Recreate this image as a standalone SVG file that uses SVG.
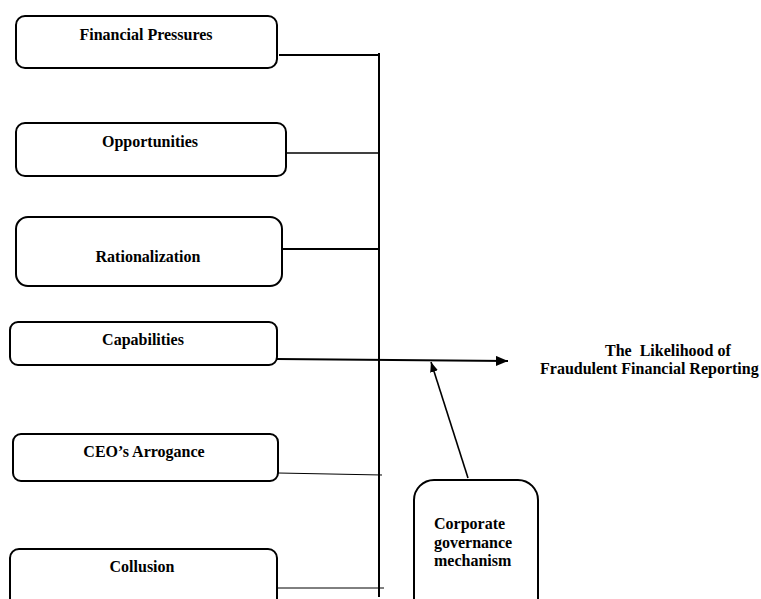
<svg xmlns="http://www.w3.org/2000/svg" width="761" height="599" viewBox="0 0 761 599">
<defs>
<style>
.box{fill:#fff;stroke:#000;stroke-width:2}
.lbl{font-family:"Liberation Serif","Times New Roman",serif;font-weight:bold;font-size:16px;fill:#000}
.c{text-anchor:middle}
.ln{stroke:#000;fill:none}
</style>
<marker id="ah" markerWidth="10" markerHeight="8" refX="10" refY="4" orient="auto" markerUnits="userSpaceOnUse">
<path d="M0,0 L10,4 L0,8 Z" fill="#000"/>
</marker>
<marker id="ah2" markerWidth="12" markerHeight="10" refX="12" refY="5" orient="auto" markerUnits="userSpaceOnUse">
<path d="M0,0 L12,5 L0,10 Z" fill="#000"/>
</marker>
</defs>
<rect width="761" height="599" fill="#fff"/>
<g id="connectors">
<line class="ln" x1="379" y1="53" x2="379" y2="597" stroke-width="2"/>
<line class="ln" x1="279" y1="55" x2="379" y2="55" stroke-width="2"/>
<line class="ln" x1="283" y1="153" x2="379" y2="153" stroke-width="1.3"/>
<line class="ln" x1="282" y1="249" x2="379" y2="249" stroke-width="2"/>
<line class="ln" x1="277" y1="359" x2="508" y2="361" stroke-width="2" marker-end="url(#ah2)"/>
<line class="ln" x1="278" y1="473" x2="382" y2="475" stroke="#555" stroke-width="1"/>
<line class="ln" x1="277" y1="588" x2="384" y2="588" stroke-width="1"/>
<line class="ln" x1="468" y1="478" x2="431" y2="362" stroke-width="1.6" marker-end="url(#ah)"/>
</g>
<g id="financial-pressures">
<rect class="box" x="16" y="16" width="261" height="52" rx="9"/>
<text class="lbl c" x="146" y="40">Financial Pressures</text>
</g>
<g id="opportunities">
<rect class="box" x="16" y="123" width="270" height="53" rx="9"/>
<text class="lbl c" x="150" y="147">Opportunities</text>
</g>
<g id="rationalization">
<rect class="box" x="16" y="217" width="266" height="69" rx="12"/>
<text class="lbl c" x="148" y="262">Rationalization</text>
</g>
<g id="capabilities">
<rect class="box" x="10" y="322" width="267" height="43" rx="8"/>
<text class="lbl c" x="143" y="345">Capabilities</text>
</g>
<g id="ceo-arrogance">
<rect class="box" x="13" y="434" width="265" height="47" rx="8"/>
<text class="lbl c" x="144" y="457">CEO’s Arrogance</text>
</g>
<g id="collusion">
<rect class="box" x="10" y="549" width="267" height="70" rx="9"/>
<text class="lbl c" x="142" y="572">Collusion</text>
</g>
<g id="corporate-governance">
<rect class="box" x="414" y="480" width="124" height="140" rx="20"/>
<text class="lbl" x="434" y="529">Corporate</text>
<text class="lbl" x="434" y="548">governance</text>
<text class="lbl" x="434" y="566">mechanism</text>
</g>
<g id="outcome">
<text class="lbl" x="605" y="356" xml:space="preserve">The  Likelihood of</text>
<text class="lbl" x="540" y="374">Fraudulent Financial Reporting</text>
</g>
</svg>
